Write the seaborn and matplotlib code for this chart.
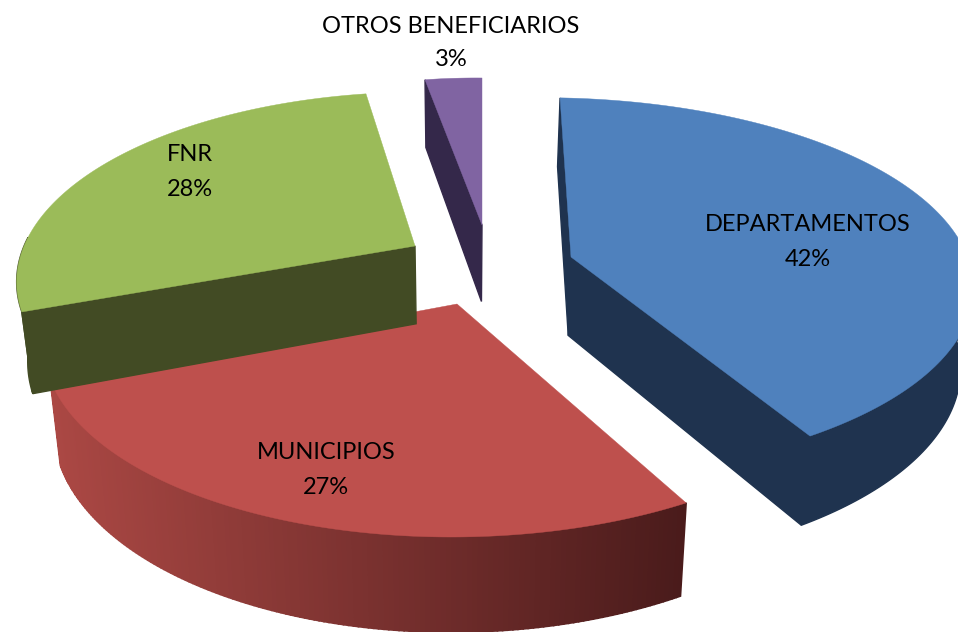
# Exploded 3D pie: share of each beneficiary
import numpy as np
import matplotlib
matplotlib.use('Agg')
import matplotlib.pyplot as plt
import seaborn as sns

# Chart data
categories = ['DEPARTAMENTOS', 'MUNICIPIOS', 'FNR', 'OTROS BENEFICIARIOS']
shares = [42, 27, 28, 3]

# Colours of the top faces and of the sides (left end, right end of the gradient)
top_colors = ['#4F81BD', '#BE504D', '#9BBB59', '#8064A2']
side_left = ['#1F334F', '#AB4844', '#424B24', '#34284A']
side_right = ['#1F334F', '#4A1B1B', '#424B24', '#34284A']

# View of each exploded slice: where its tip lands, and how the unit circle is tilted
tips = [(571, 257), (457, 304), (415, 246), (482, 225)]
views = [
    (420.67, -12.64, 2.11, 183.86, 0.0628, 0.1554),
    (408.87, 5.83, 1.05, 190.67, -0.007, 0.1817),
    (392.68, 16.19, -4.86, 181.31, -0.0099, 0.1778),
    (355.0, 0.0, -3.0, 172.0, 0.0, 0.17),
]
# Which straight cut faces can be seen (0 = first edge, -1 = last edge)
cut_faces = [[0, -1], [], [0], [0]]
label_pos = [(808, 242), (326, 470), (190, 172), (451, 43)]
label_spacing = [1.8, 1.8, 1.8, 1.65]

sns.set_theme(style='white')
plt.rcParams['font.family'] = ['Lato', 'DejaVu Sans']


def project(t, view, tip):
    a, b, c, d, e, f = view
    w = 1 + e * np.cos(t) + f * np.sin(t)
    x = tip[0] + (a * np.cos(t) + b * np.sin(t)) / w
    y = tip[1] - (c * np.cos(t) + d * np.sin(t)) / w
    return x, y


def drop(x, y):
    # the sides get longer towards the viewer and lean to a point below the pie
    return x + (460 - x) * 0.025, y + 78 + (y - 250) * 0.06


fig = plt.figure(figsize=(9.58, 6.32), dpi=100)
ax = fig.add_axes([0, 0, 1, 1])
ax.set_xlim(0, 958)
ax.set_ylim(632, 0)
ax.axis('off')

edges = np.radians(90 - np.cumsum([0] + shares) * 3.6)

# Paint back to front
for i in [2, 3, 0, 1]:
    t = np.linspace(edges[i], edges[i + 1], 160)
    x, y = project(t, views[i], tips[i])
    x0, y0 = tips[i]
    bx0, by0 = drop(x0, y0)
    left_rgb = np.array(matplotlib.colors.to_rgb(side_left[i]))
    right_rgb = np.array(matplotlib.colors.to_rgb(side_right[i]))

    # Cut faces
    for k in cut_faces[i]:
        bx, by = drop(x[k], y[k])
        ax.fill([x0, x[k], bx, bx0], [y0, y[k], by, by0], color=side_right[i], lw=1, zorder=i + 1)

    # Outer wall, only the part that faces the viewer
    front = np.sin(t) < 0.03
    if front.any():
        wx, wy = x[front], y[front]
        bx, by = drop(wx, wy)
        if side_left[i] == side_right[i]:
            ax.fill(np.r_[wx, bx[::-1]], np.r_[wy, by[::-1]], color=side_right[i], lw=1, zorder=i + 1)
        else:
            # thin strips for the gradient
            for k in range(len(wx) - 1):
                mix = (wx[k] - wx.min()) / (wx.max() - wx.min())
                col = left_rgb + (right_rgb - left_rgb) * mix
                ax.fill([wx[k], wx[k + 1], bx[k + 1], bx[k]], [wy[k], wy[k + 1], by[k + 1], by[k]],
                        color=col, lw=1.2, zorder=i + 1)

    # Top face
    ax.fill(np.r_[x0, x], np.r_[y0, y], color=top_colors[i], lw=0.3, zorder=i + 1.5)

# Labels
for name, share, (lx, ly), spacing in zip(categories, shares, label_pos, label_spacing):
    ax.text(lx, ly, f'{name}\n{share}%', ha='center', va='center', fontsize=17,
            color='black', linespacing=spacing, zorder=10)

fig.savefig('out.png', dpi=100)
